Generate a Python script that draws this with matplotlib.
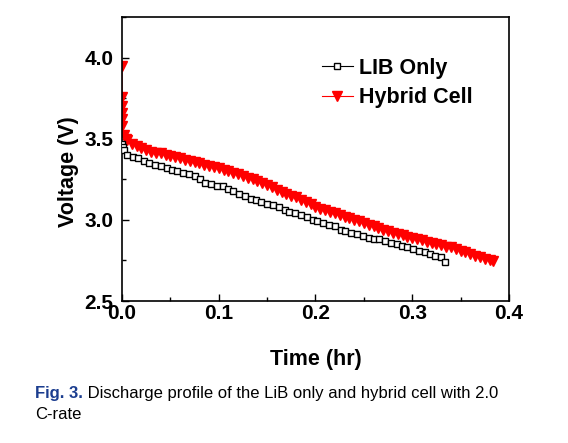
import matplotlib
matplotlib.use('Agg')
import matplotlib.pyplot as plt
from matplotlib.ticker import MultipleLocator

plt.rcParams['font.family'] = ['Liberation Sans', 'DejaVu Sans']

# LIB only discharge curve (time in hr, voltage in V)
t_lib = [0.000, 0.001, 0.002, 0.005, 0.011, 0.017, 0.023, 0.028, 0.034, 0.040,
         0.046, 0.052, 0.057, 0.063, 0.069, 0.075, 0.081, 0.086, 0.092, 0.098,
         0.104, 0.110, 0.115, 0.121, 0.127, 0.133, 0.139, 0.144, 0.150, 0.156,
         0.162, 0.168, 0.173, 0.179, 0.185, 0.191, 0.197, 0.202, 0.208, 0.214,
         0.220, 0.226, 0.231, 0.237, 0.243, 0.249, 0.255, 0.260, 0.266, 0.272,
         0.278, 0.284, 0.289, 0.295, 0.301, 0.307, 0.313, 0.318, 0.324, 0.330,
         0.334]
v_lib = [3.47, 3.45, 3.43, 3.40, 3.39, 3.38, 3.36, 3.35, 3.34, 3.33,
         3.32, 3.31, 3.30, 3.29, 3.28, 3.27, 3.25, 3.23, 3.22, 3.21,
         3.21, 3.19, 3.18, 3.16, 3.15, 3.13, 3.12, 3.11, 3.10, 3.09,
         3.08, 3.06, 3.05, 3.04, 3.03, 3.02, 3.00, 2.99, 2.98, 2.97,
         2.96, 2.94, 2.93, 2.92, 2.91, 2.90, 2.89, 2.88, 2.88, 2.87,
         2.86, 2.85, 2.84, 2.83, 2.82, 2.81, 2.80, 2.79, 2.78, 2.77,
         2.74]

# Hybrid cell discharge curve
t_hyb = [0.000, 0.000, 0.000, 0.000, 0.000, 0.000, 0.002, 0.004,
         0.005, 0.010, 0.015, 0.020, 0.025, 0.030, 0.035, 0.040, 0.045, 0.050,
         0.055, 0.060, 0.065, 0.070, 0.075, 0.080, 0.085, 0.090, 0.095, 0.100,
         0.105, 0.110, 0.115, 0.120, 0.125, 0.130, 0.135, 0.140, 0.145, 0.150,
         0.155, 0.160, 0.165, 0.170, 0.175, 0.180, 0.185, 0.190, 0.195, 0.200,
         0.205, 0.210, 0.215, 0.220, 0.225, 0.230, 0.235, 0.240, 0.245, 0.250,
         0.255, 0.260, 0.265, 0.270, 0.275, 0.280, 0.285, 0.290, 0.295, 0.300,
         0.305, 0.310, 0.315, 0.320, 0.325, 0.330, 0.335, 0.340, 0.345, 0.350,
         0.355, 0.360, 0.365, 0.370, 0.375, 0.380, 0.383]
v_hyb = [3.95, 3.76, 3.70, 3.66, 3.62, 3.58, 3.52, 3.50,
         3.49, 3.47, 3.455, 3.44, 3.43, 3.42, 3.415, 3.41, 3.40, 3.395,
         3.39, 3.38, 3.37, 3.36, 3.355, 3.35, 3.34, 3.335, 3.325, 3.32,
         3.31, 3.30, 3.29, 3.28, 3.27, 3.26, 3.25, 3.24, 3.23, 3.215,
         3.20, 3.185, 3.17, 3.16, 3.15, 3.14, 3.125, 3.11, 3.095, 3.08,
         3.07, 3.06, 3.05, 3.04, 3.03, 3.02, 3.01, 3.00, 2.99, 2.98,
         2.97, 2.96, 2.95, 2.94, 2.93, 2.92, 2.91, 2.905, 2.895, 2.89,
         2.88, 2.875, 2.865, 2.86, 2.85, 2.845, 2.835, 2.83, 2.82, 2.81,
         2.80, 2.79, 2.78, 2.77, 2.76, 2.75, 2.745]

fig = plt.figure(figsize=(5.68, 4.43), dpi=100)
ax = fig.add_axes([0.2148, 0.3205, 0.6813, 0.6411])

ax.plot(t_hyb, v_hyb, color='red', lw=0.8, marker='v', markersize=7,
        markerfacecolor='red', markeredgecolor='red', label='Hybrid Cell', zorder=2)
ax.plot(t_lib, v_lib, color='black', lw=0.8, marker='s', markersize=4.8,
        markerfacecolor='white', markeredgecolor='black', markeredgewidth=1.0,
        label='LIB Only', zorder=3)

ax.set_xlim(0, 0.4)
ax.set_ylim(2.5, 4.25)
ax.xaxis.set_major_locator(MultipleLocator(0.1))
ax.xaxis.set_minor_locator(MultipleLocator(0.05))
ax.yaxis.set_major_locator(MultipleLocator(0.5))
ax.yaxis.set_minor_locator(MultipleLocator(0.25))
ax.tick_params(which='both', direction='in', labelsize=15)
ax.tick_params(which='major', length=5, width=1)
ax.tick_params(which='minor', length=3, width=1)
ax.tick_params(axis='x', pad=2)
ax.tick_params(axis='y', pad=6)
for lab in ax.get_xticklabels() + ax.get_yticklabels():
    lab.set_fontweight('bold')
for s in ax.spines.values():
    s.set_linewidth(1.2)

ax.set_xlabel('Time (hr)', fontsize=15.5, fontweight='bold', va='baseline')
ax.xaxis.set_label_coords(0.5, -0.2254)
ax.set_ylabel('Voltage (V)', fontsize=15.5, fontweight='bold', va='center')
ax.yaxis.set_label_coords(-0.1395, 0.454)

h, l = ax.get_legend_handles_labels()
ax.legend(h[::-1], l[::-1], loc='center left', bbox_to_anchor=(0.4945, 0.7676),
          borderaxespad=0, frameon=False, handlelength=1.44, handletextpad=0.28,
          labelspacing=0.4, prop={'size': 15.5, 'weight': 'bold'})

t1 = fig.text(0.0616, 0.1016, 'Fig. 3.', color='#1b3d8f', fontsize=12,
              fontweight='bold', va='baseline', ha='left')
fig.canvas.draw()
ax.annotate(' Discharge profile of the LiB only and hybrid cell with 2.0',
            xy=(1, 0), xycoords=t1, va='bottom', ha='left', fontsize=12,
            color='black', annotation_clip=False)
fig.text(0.0616, 0.0542, 'C-rate', color='black', fontsize=12,
         va='baseline', ha='left')

fig.savefig('out.png', dpi=100)
